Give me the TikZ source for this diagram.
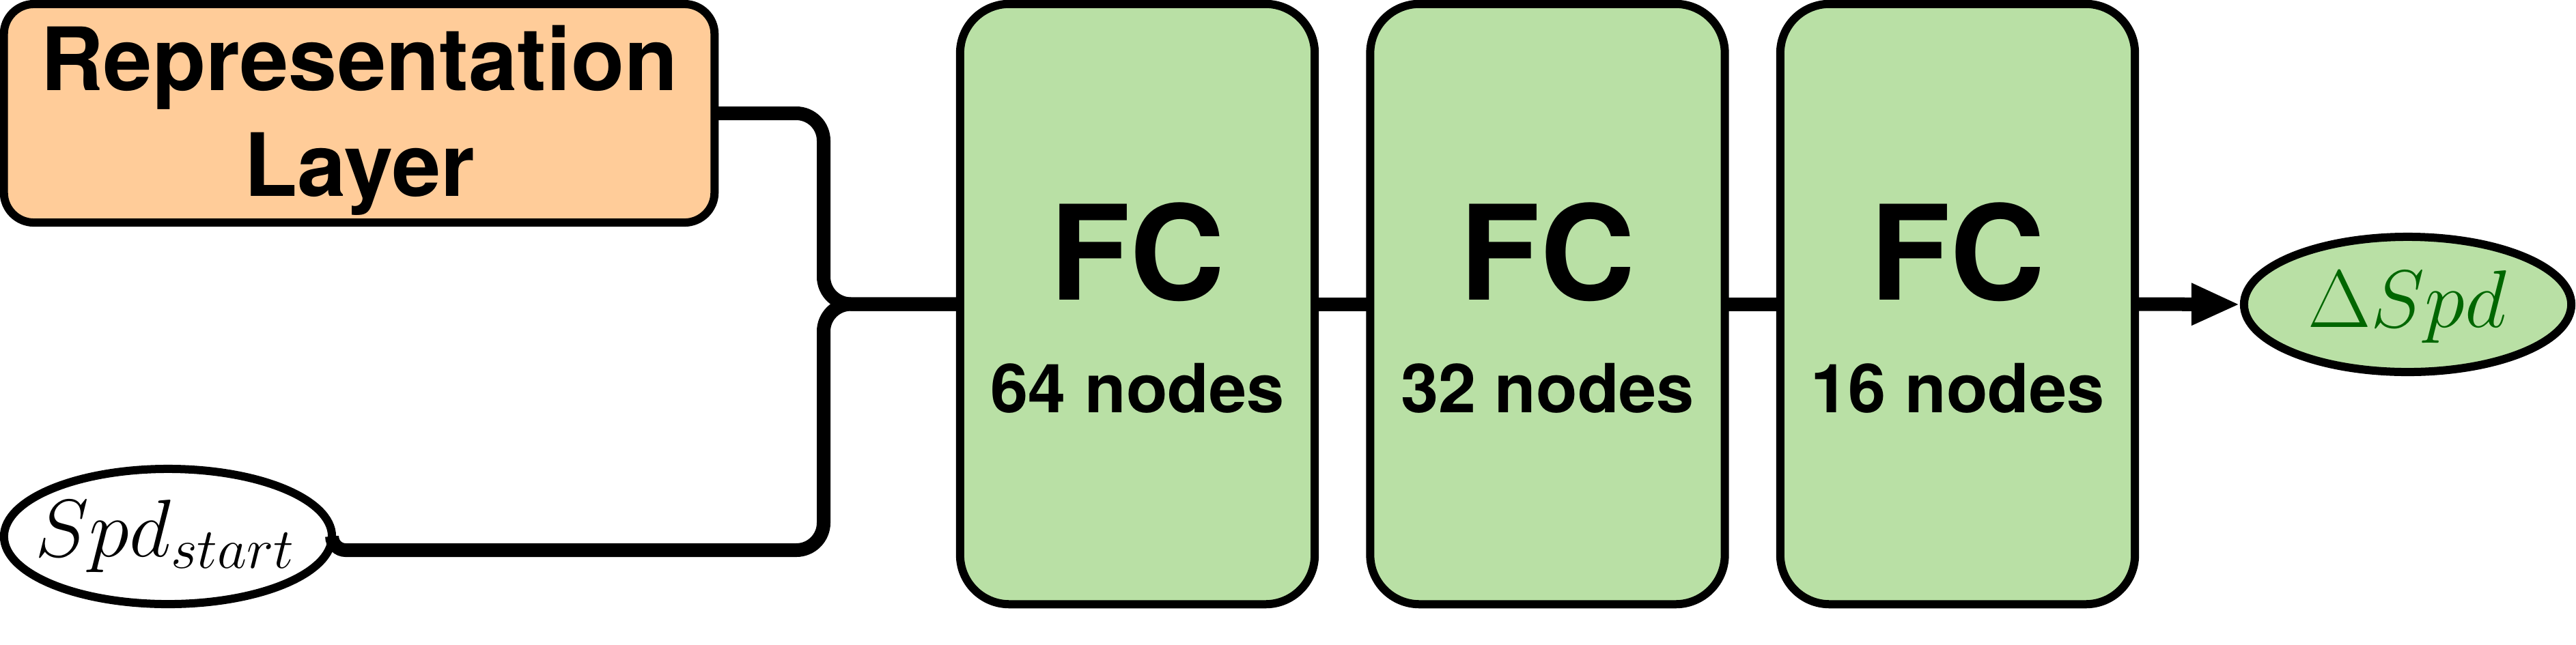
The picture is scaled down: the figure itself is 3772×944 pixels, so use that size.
\documentclass[tikz,border=0pt]{standalone}
\usepackage{fix-cm}
\usepackage{fontspec}
\newfontfamily\helv{TeX Gyre Heros}
\usetikzlibrary{arrows.meta,shapes.geometric}
\definecolor{orangefill}{HTML}{FFCC99}
\definecolor{greenfill}{HTML}{B9E0A5}
\definecolor{darkgreentext}{HTML}{006600}
\begin{document}
\begin{tikzpicture}[x=0.01cm,y=-0.01cm,
  box/.style={draw=black, line width=0.12cm, rectangle, outer sep=0pt, inner sep=0pt},
  repbox/.style={box, fill=orangefill, minimum width=10.4cm, minimum height=3.2cm, rounded corners=0.44cm},
  fcbox/.style={box, fill=greenfill, minimum width=5.19cm, minimum height=8.79cm, rounded corners=0.72cm},
  oval/.style={draw=black, line width=0.12cm, ellipse, inner sep=0pt, outer sep=0pt, minimum width=4.8cm, minimum height=1.98cm},
  conn/.style={line width=0.2cm, draw=black},
  reptext/.style={anchor=base, inner sep=0pt, font=\helv\bfseries\fontsize{36.4pt}{44pt}\selectfont},
  fctitle/.style={anchor=base, inner sep=0pt, font=\helv\bfseries\fontsize{54.8pt}{60pt}\selectfont},
  fcsub/.style={anchor=base, inner sep=0pt, font=\helv\bfseries\fontsize{28.2pt}{34pt}\selectfont},
  mathtext/.style={anchor=base, inner sep=0pt, font=\fontsize{34pt}{40pt}\selectfont},
]
\useasboundingbox[fill=white] (0,0) rectangle (3772,944);

% nodes
\node[repbox] (rep) at (526,166) {};
\node[reptext] (rept1) at (526,132) {Representation};
\node[reptext] (rept2) at (526,287) {Layer};

\node[fcbox] (fc1) at (1665.5,445.5) {};
\node[fcbox] (fc2) at (2266,445.5) {};
\node[fcbox] (fc3) at (2866.5,445.5) {};
\node[fctitle] (fc1t) at (1665.5,439) {FC};
\node[fctitle] (fc2t) at (2266,439) {FC};
\node[fctitle] (fc3t) at (2866.5,439) {FC};
\node[fcsub] (fc1s) at (1665.5,604) {64 nodes};
\node[fcsub] (fc2s) at (2266,604) {32 nodes};
\node[fcsub] (fc3s) at (2866.5,604) {16 nodes};

\node[oval, fill=white] (spd) at (246,786) {};
\node[mathtext] (spdt) at (242,815) {$Spd_{start}$};

\node[oval, fill=greenfill, outer sep=0.06cm, minimum width=4.79cm] (dspd) at (3525.5,446) {};
\node[mathtext, text=darkgreentext] (dspdt) at (3525,479) {$\Delta Spd$};

% connector helper points
\coordinate (bend) at (1206,445.5);
\coordinate (jog) at (530,806);

% connectors
\draw[conn, rounded corners=0.4cm] (rep.east) -- (rep.east -| bend) -- (bend) -- (fc1.west);
\draw[conn, rounded corners=0.2cm] (spd.east) -- (spd.east |- jog) -- (jog);
\draw[conn, rounded corners=0.4cm] (jog) -- (jog -| bend) -- (bend) -- (fc1.west);
\draw[conn] (fc1.east) -- (fc2.west);
\draw[conn] (fc2.east) -- (fc3.west);
\draw[conn, -{Triangle[length=0.71cm,width=0.57cm]}] (fc3.east) -- (dspd.west);
\end{tikzpicture}
\end{document}
